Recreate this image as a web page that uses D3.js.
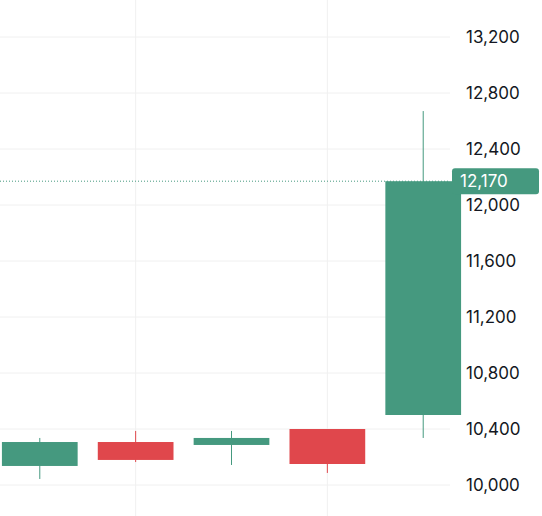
<!DOCTYPE html>
<html><head><meta charset="utf-8">
<script src="https://cdn.jsdelivr.net/npm/d3@7"></script>
<style>body{margin:0;background:#fff;}</style>
</head><body>
<svg id="c" width="542" height="516"></svg>
<script>
const opens  = [10136, 10307, 10286, 10400, 10500];
const closes = [10307, 10179, 10336, 10150, 12170];
const highs  = [10336, 10386, 10386, 10400, 12671];
const lows   = [10043, 10164, 10143, 10086, 10336];
const ticks  = [10000, 10400, 10800, 11200, 11600, 12000, 12400, 12800, 13200];
const lastPrice = 12170;

const svg = d3.select("#c");
const W = 542, H = 516, plotR = 450;
const x = d3.scaleBand().domain(d3.range(5)).range([0, 463]).paddingInner(0.21).paddingOuter(0.02);
const y = d3.scaleLinear().domain([10000, 13200]).range([485, 37]);
const green = "#45997f", red = "#e0474c";

svg.append("g").selectAll("line").data(ticks).join("line")
  .attr("x1", 0).attr("x2", plotR).attr("y1", d => y(d)).attr("y2", d => y(d))
  .attr("stroke", "#f0f0f0");
svg.append("g").selectAll("line").data([1, 3]).join("line")
  .attr("x1", d => x(d) + x.bandwidth() / 2).attr("x2", d => x(d) + x.bandwidth() / 2)
  .attr("y1", 0).attr("y2", H).attr("stroke", "#f0f0f0");

const data = opens.map((o, i) => ({ i, o, c: closes[i], h: highs[i], l: lows[i] }));
const g = svg.append("g");
g.selectAll("line").data(data).join("line")
  .attr("x1", d => x(d.i) + x.bandwidth() / 2).attr("x2", d => x(d.i) + x.bandwidth() / 2)
  .attr("y1", d => y(d.h)).attr("y2", d => y(d.l))
  .attr("stroke", d => d.c >= d.o ? green : red);
g.selectAll("rect").data(data).join("rect")
  .attr("x", d => x(d.i)).attr("width", x.bandwidth())
  .attr("y", d => y(Math.max(d.o, d.c))).attr("height", d => Math.abs(y(d.o) - y(d.c)))
  .attr("fill", d => d.c >= d.o ? green : red);

svg.append("line").attr("x1", 0).attr("x2", plotR).attr("y1", y(lastPrice)).attr("y2", y(lastPrice))
  .attr("stroke", "#45997f").attr("stroke-dasharray", "1,2");

const fmt = d3.format(",");
svg.append("g").selectAll("text").data(ticks).join("text")
  .attr("x", 466).attr("y", d => y(d)).attr("dy", "0.35em")
  .attr("font-family", "Inter, sans-serif").attr("font-size", 17).attr("fill", "#131722")
  .text(fmt);

svg.append("rect").attr("x", plotR + 2).attr("y", y(lastPrice) - 13).attr("width", 87).attr("height", 26)
  .attr("rx", 3).attr("fill", green);
svg.append("text").attr("x", 460).attr("y", y(lastPrice)).attr("dy", "0.35em")
  .attr("font-family", "Inter, sans-serif").attr("font-size", 17).attr("fill", "#fff")
  .text(fmt(lastPrice));
</script>
</body></html>
